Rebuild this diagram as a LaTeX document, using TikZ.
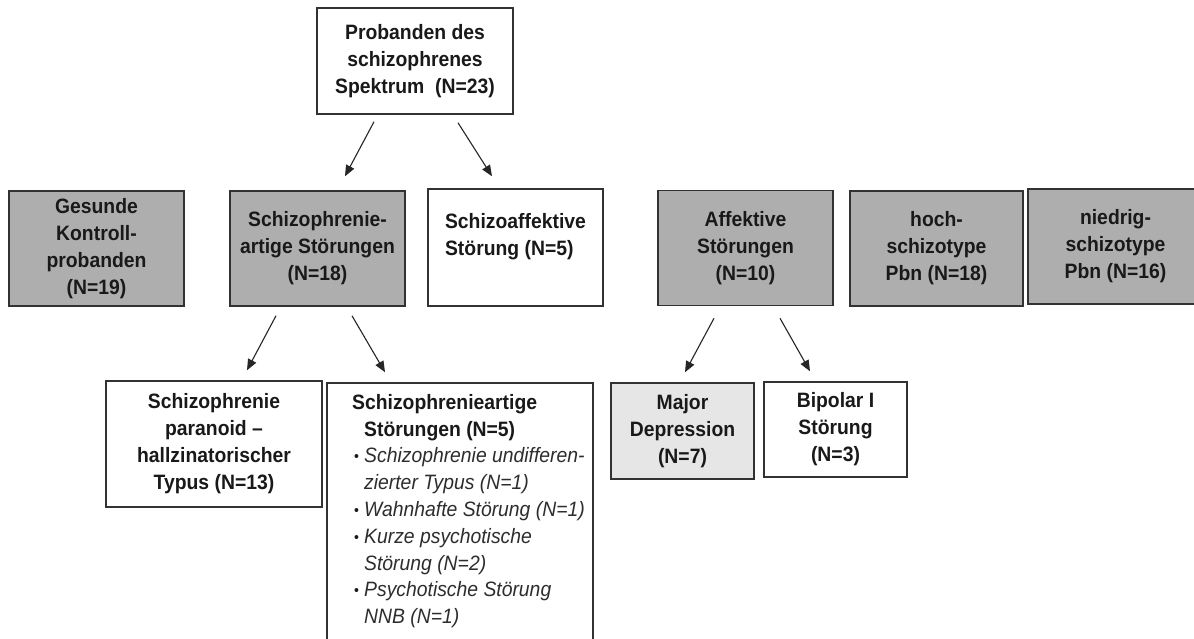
\documentclass[tikz,border=0pt]{standalone}
\usepackage{fontspec}
\setmainfont{Liberation Sans}[FakeStretch=0.93]
\usetikzlibrary{arrows.meta,calc}
\definecolor{boxgray}{RGB}{174,174,174}
\definecolor{boxlight}{RGB}{230,230,230}
\definecolor{edgecol}{RGB}{50,50,50}
\definecolor{txtcol}{RGB}{25,25,25}
\definecolor{itcol}{RGB}{45,45,45}
\newcommand{\bul}{\makebox[12pt][l]{\hspace*{2pt}\raisebox{1pt}{\fontsize{15}{15}\selectfont •}}}
\tikzset{
  box/.style={draw=edgecol, line width=1.5pt, align=center, inner sep=0pt,
    font=\fontsize{20.8}{27}\selectfont\bfseries, text=txtcol},
  wbox/.style={box, fill=white},
  gbox/.style={box, fill=boxgray, minimum width=175pt, minimum height=115pt},
  lbox/.style={box, fill=boxlight},
  arr/.style={draw=black!85, line width=1.1pt, -{Triangle[length=11pt,width=9pt]}},
  listtext/.style={anchor=north west, align=left, inner sep=0pt,
    font=\fontsize{20.8}{26.8}\selectfont, text=txtcol}
}
\begin{document}
\begin{tikzpicture}[x=1pt,y=-1pt]
\clip (0,0) rectangle (1194,639);
\fill[white] (0,0) rectangle (1194,639);

\node[wbox, minimum width=196pt, minimum height=106pt] (top) at (415,61)
  {Probanden des\\schizophrenes\\Spektrum\ \ (N=23)};

\node[gbox] (ges) at (96.5,248.5) {Gesunde\\Kontroll-\\probanden\\(N=19)};
\node[gbox] (sart) at (317.5,248.5) {Schizophrenie-\\artige Störungen\\(N=18)};
\node[wbox, align=left, minimum width=175pt, minimum height=117pt] (saff) at (515.5,247.5)
  {Schizoaffektive\\Störung (N=5)\\\mbox{}};
\node[gbox] (aff) at (745.5,248) {Affektive\\Störungen\\(N=10)};
\node[gbox, minimum width=173pt] (hoch) at (936.5,248.5) {hoch-\\schizotype\\Pbn (N=18)};
\node[gbox] (nied) at (1115.5,246.5) {niedrig-\\schizotype\\Pbn (N=16)};

\node[wbox, minimum width=216pt, minimum height=126pt] (para) at (214,444)
  {Schizophrenie\\paranoid --\\hallzinatorischer\\Typus (N=13)};
\node[wbox, minimum width=266pt, minimum height=270pt] (sfa) at (460,518) {};
\node[listtext] (sfatext) at (352,394) {%
  \textbf{Schizophrenieartige}\\
  \hspace*{12pt}\textbf{Störungen (N=5)}\\
  \bul\textcolor{itcol}{\textit{Schizophrenie undifferen-}}\\
  \hspace*{12pt}\textcolor{itcol}{\textit{zierter Typus (N=1)}}\\
  \bul\textcolor{itcol}{\textit{Wahnhafte Störung (N=1)}}\\
  \bul\textcolor{itcol}{\textit{Kurze psychotische}}\\
  \hspace*{12pt}\textcolor{itcol}{\textit{Störung (N=2)}}\\
  \bul\textcolor{itcol}{\textit{Psychotische Störung}}\\
  \hspace*{12pt}\textcolor{itcol}{\textit{NNB (N=1)}}};
\node[lbox, minimum width=143pt, minimum height=96pt] (major) at (682.5,431)
  {Major\\Depression\\(N=7)};
\node[wbox, minimum width=143pt, minimum height=95pt] (bip) at (835.5,429.5)
  {Bipolar I\\Störung\\(N=3)};

\draw[arr] ($(top.south)+(-41,7)$) -- ($(sart.north)+(27.5,-14)$);
\draw[arr] ($(top.south)+(43,8)$) -- ($(saff.north)+(-23.5,-12)$);
\draw[arr] ($(sart.south)+(-41.5,9)$) -- ($(para.north)+(33,-10)$);
\draw[arr] ($(sart.south)+(34.5,9)$) -- ($(sfa.north)+(-75,-10)$);
\draw[arr] ($(aff.south)+(-31.5,12)$) -- ($(major.north)+(2.5,-10)$);
\draw[arr] ($(aff.south)+(34.5,12)$) -- ($(bip.north)+(-25.5,-10)$);
\end{tikzpicture}
\end{document}
